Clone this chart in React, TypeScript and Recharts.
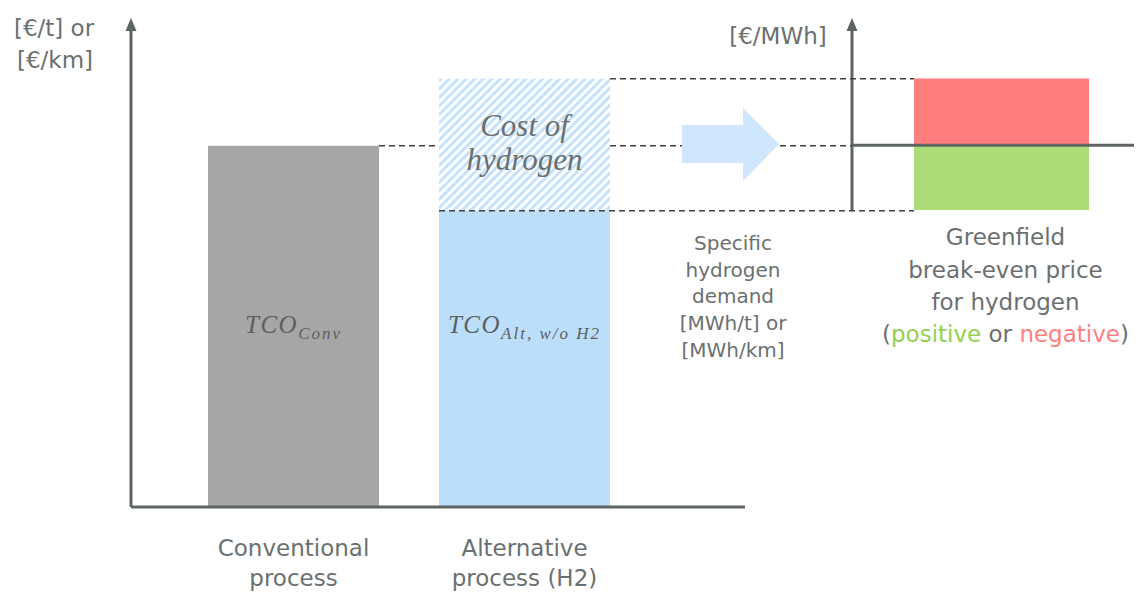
import React from 'react';
import { ComposedChart, Bar, XAxis, YAxis, Cell, LabelList, ReferenceLine } from 'recharts';

// left chart: total cost of ownership per process
const categories = ['Conventional process', 'Alternative process (H2)'];
const categoryLines = [['Conventional', 'process'], ['Alternative', 'process (H2)']];
const tcoWithoutH2 = [100, 82];
const hydrogenCost = [0, 36.5];
const tcoSubscripts = ['Conv', 'Alt, w/o H2'];

// right chart: break-even price range
const breakEvenCategory = ['Greenfield'];
const breakEvenUpper = [18.5];
const breakEvenLower = [-18];

const AXIS = '#5d6463';
const TEXT = '#6a706f';
const SANS = '"DejaVu Sans", Verdana, sans-serif';
const SERIF = '"Liberation Serif", "Times New Roman", serif';

const LEFT_DOMAIN: [number, number] = [0, 132];
const RIGHT_DOMAIN: [number, number] = [-18, 32];
const PLOT_TOP = 30;
const PLOT_BOTTOM = 507;

// same linear mapping the left chart uses, for the guide lines
const yLeft = (v: number) =>
  PLOT_TOP + ((LEFT_DOMAIN[1] - v) / (LEFT_DOMAIN[1] - LEFT_DOMAIN[0])) * (PLOT_BOTTOM - PLOT_TOP);

const leftData = categories.map((name, i) => ({
  name,
  base: tcoWithoutH2[i],
  h2: hydrogenCost[i],
}));

const rightData = breakEvenCategory.map((name, i) => ({
  name,
  upper: breakEvenUpper[i],
  lower: breakEvenLower[i],
}));

const ProcessTick = (props: any) => {
  const { x, y, payload } = props;
  const lines = categoryLines[categories.indexOf(payload.value)] || [payload.value];
  return (
    <text x={x} y={y} textAnchor="middle" fontFamily={SANS} fontSize={23} fill={TEXT}>
      {lines.map((l, i) => (
        <tspan key={l} x={x} y={y + 49 + i * 30}>{l}</tspan>
      ))}
    </text>
  );
};

const GreenfieldTick = (props: any) => {
  const { x, y } = props;
  const cx = x + 4;
  return (
    <text x={cx} y={y} textAnchor="middle" fontFamily={SANS} fontSize={23} fill={TEXT}>
      <tspan x={cx} y={y + 35}>Greenfield</tspan>
      <tspan x={cx} y={y + 68}>break-even price</tspan>
      <tspan x={cx} y={y + 100}>for hydrogen</tspan>
      <tspan x={cx} y={y + 132}>(</tspan>
      <tspan fill="#92d050">positive</tspan>
      <tspan> or </tspan>
      <tspan fill="#ff7f7f">negative</tspan>
      <tspan>)</tspan>
    </text>
  );
};

const TcoLabel = (props: any) => {
  const { x, y, width, height, index } = props;
  const cx = x + width / 2;
  const baseline = y + height - 174;
  return (
    <text x={cx} y={baseline} textAnchor="middle" fontFamily={SERIF} fontStyle="italic" fill="#5b605f">
      <tspan fontSize={25} letterSpacing={1.5}>TCO</tspan>
      <tspan fontSize={17} letterSpacing={2} dy={6}>{tcoSubscripts[index]}</tspan>
    </text>
  );
};

const CostLabel = (props: any) => {
  const { x, y, width, height } = props;
  if (!height || Math.abs(height) < 1) return null;
  const cx = x + width / 2;
  const cy = y + height / 2;
  return (
    <text x={cx} y={cy} textAnchor="middle" fontFamily={SERIF} fontStyle="italic" fontSize={31} fill={TEXT}>
      <tspan x={cx} y={cy - 9}>Cost of</tspan>
      <tspan x={cx} y={cy + 25}>hydrogen</tspan>
    </text>
  );
};

export default function App() {
  const convTop = yLeft(tcoWithoutH2[0]);
  const altTop = yLeft(tcoWithoutH2[1] + hydrogenCost[1]);
  const altBase = yLeft(tcoWithoutH2[1]);
  const dash = { stroke: '#404040', strokeWidth: 1.5, strokeDasharray: '6 4' };

  return (
    <div style={{ position: 'absolute', left: 0, top: 0, width: 1146, height: 592, background: '#fff' }}>
      <div style={{ position: 'absolute', left: 0, top: 0 }}>
        <ComposedChart width={800} height={592} data={leftData} margin={{ top: PLOT_TOP, right: 55, left: 121, bottom: 0 }}>
          <defs>
            <pattern id="h2Hatch" patternUnits="userSpaceOnUse" width="6" height="6" patternTransform="rotate(45)">
              <rect width="6" height="6" fill="#ffffff" />
              <rect width="3" height="6" fill="#c6e2fb" />
            </pattern>
          </defs>
          <XAxis
            dataKey="name"
            height={85}
            tick={<ProcessTick />}
            tickLine={false}
            tickSize={0}
            tickMargin={0}
            interval={0}
            padding={{ left: 47, right: 105 }}
            axisLine={{ stroke: AXIS, strokeWidth: 3 }}
          />
          <YAxis type="number" domain={LEFT_DOMAIN} width={10} tick={false} tickLine={false} axisLine={{ stroke: AXIS, strokeWidth: 3 }} />
          <Bar dataKey="base" stackId="tco" barSize={171} isAnimationActive={false}>
            {leftData.map((d, i) => (
              <Cell key={d.name} fill={i === 0 ? '#a6a6a6' : '#bbdefb'} />
            ))}
            <LabelList dataKey="base" content={<TcoLabel />} />
          </Bar>
          <Bar dataKey="h2" stackId="tco" barSize={171} fill="url(#h2Hatch)" isAnimationActive={false}>
            <LabelList dataKey="h2" content={<CostLabel />} />
          </Bar>
        </ComposedChart>
      </div>

      <div style={{ position: 'absolute', left: 800, top: 0 }}>
        <ComposedChart width={346} height={360} data={rightData} stackOffset="sign" margin={{ top: PLOT_TOP, right: 12, left: 42, bottom: 0 }}>
          <XAxis
            dataKey="name"
            height={150}
            tick={<GreenfieldTick />}
            tickLine={false}
            tickSize={0}
            tickMargin={0}
            axisLine={false}
            padding={{ left: 45, right: 28 }}
          />
          <YAxis type="number" domain={RIGHT_DOMAIN} width={10} tick={false} tickLine={false} axisLine={{ stroke: AXIS, strokeWidth: 3 }} />
          <Bar dataKey="upper" stackId="be" fill="#ff7f7f" barSize={175} isAnimationActive={false} />
          <Bar dataKey="lower" stackId="be" fill="#acdc78" barSize={175} isAnimationActive={false} />
          <ReferenceLine y={0} stroke={AXIS} strokeWidth={3} />
        </ComposedChart>
      </div>

      <svg width={1146} height={592} style={{ position: 'absolute', left: 0, top: 0, pointerEvents: 'none' }}>
        {/* guide lines */}
        <line x1={379} x2={439} y1={convTop} y2={convTop} {...dash} />
        <line x1={610} x2={852} y1={convTop} y2={convTop} {...dash} />
        <line x1={610} x2={914} y1={altTop} y2={altTop} {...dash} />
        <line x1={439} x2={914} y1={altBase} y2={altBase} {...dash} />

        {/* axis arrow heads */}
        <polygon points="131,18 125.5,31 136.5,31" fill={AXIS} />
        <polygon points="852,18 846.5,31 857.5,31" fill={AXIS} />

        {/* transfer arrow */}
        <polygon points="682,125 743,125 743,108 779,144 743,181 743,163 682,163" fill="#cfe7fc" />

        <text fontFamily={SANS} fontSize={23} fill={TEXT} textAnchor="middle">
          <tspan x={54} y={36}>[€/t] or</tspan>
          <tspan x={55} y={68}>[€/km]</tspan>
          <tspan x={778} y={44}>[€/MWh]</tspan>
        </text>
        <text fontFamily={SANS} fontSize={20} fill={TEXT} textAnchor="middle">
          <tspan x={733} y={250}>Specific</tspan>
          <tspan x={733} y={277}>hydrogen</tspan>
          <tspan x={733} y={303}>demand</tspan>
          <tspan x={733} y={330}>[MWh/t] or</tspan>
          <tspan x={733} y={357}>[MWh/km]</tspan>
        </text>
      </svg>
    </div>
  );
}
